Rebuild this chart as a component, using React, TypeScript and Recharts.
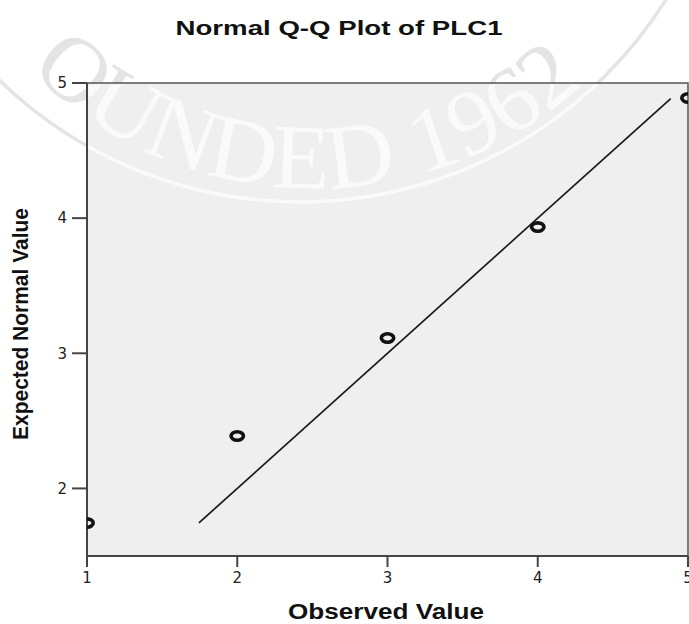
import React from 'react';
import { ScatterChart, Scatter, XAxis, YAxis, ReferenceArea } from 'recharts';

const observed = [1, 2, 3, 4, 5];
const expected = [1.744, 2.388, 3.113, 3.934, 4.889];
const fitX = [1.745, 4.885];
const fitY = [1.745, 4.885];
const xTicks = [1, 2, 3, 4, 5];
const yTicks = [2, 3, 4, 5];

const points = observed.map((x, i) => ({ x, y: expected[i] }));
const fitLine = fitX.map((x, i) => ({ x, y: fitY[i] }));

const TITLE = 'Normal Q-Q Plot of PLC1';
const X_LABEL = 'Observed Value';
const Y_LABEL = 'Expected Normal Value';

const RingMarker = (props: any) => {
  const { cx, cy } = props;
  if (cx == null || cy == null) return <g />;
  return <ellipse cx={cx} cy={cy} rx={6.2} ry={4.2} fill="none" stroke="#111" strokeWidth={3.6} />;
};

const Watermark = ({ color, id }: { color: string; id: string }) => (
  <g>
    <defs>
      <path id={id} d="M 30 70 A 400 400 0 0 0 640 20" />
    </defs>
    <circle cx={300} cy={-230} r={432} fill="none" stroke={color} strokeWidth={3.5} />
    <text fontFamily="'Liberation Serif', serif" fontSize={92} fill={color}>
      <textPath href={`#${id}`} textLength={612} lengthAdjust="spacingAndGlyphs">
        OUNDED 1962
      </textPath>
    </text>
  </g>
);

export default function App() {
  return (
    <div style={{ position: 'absolute', left: 0, top: 0, width: 689, height: 624, overflow: 'hidden', background: '#fff' }}>
      <svg width={689} height={624} style={{ position: 'absolute', left: 0, top: 0 }}>
        <Watermark color="#e4e4e4" id="wm-path-a" />
        <text
          x={339}
          y={34.5}
          textAnchor="middle"
          fontFamily="'Liberation Sans', Arial, sans-serif"
          fontWeight="bold"
          fontSize={21}
          fill="#111"
          textLength={327}
          lengthAdjust="spacingAndGlyphs"
        >
          {TITLE}
        </text>
        <text
          x={386}
          y={619}
          textAnchor="middle"
          fontFamily="'Liberation Sans', Arial, sans-serif"
          fontWeight="bold"
          fontSize={22}
          fill="#111"
          textLength={196}
          lengthAdjust="spacingAndGlyphs"
        >
          {X_LABEL}
        </text>
        <text
          x={0}
          y={0}
          transform="translate(28 324) rotate(-90)"
          textAnchor="middle"
          fontFamily="'Liberation Sans', Arial, sans-serif"
          fontWeight="bold"
          fontSize={22}
          fill="#111"
          textLength={232}
          lengthAdjust="spacingAndGlyphs"
        >
          {Y_LABEL}
        </text>
      </svg>
      <div style={{ position: 'absolute', left: 0, top: 0 }}>
        <ScatterChart width={700} height={624} margin={{ top: 83, right: 12, bottom: 28, left: 27 }}>
          <XAxis
            type="number"
            dataKey="x"
            domain={[1, 5]}
            ticks={xTicks}
            allowDataOverflow
            height={40}
            tickSize={11}
            tickMargin={5}
            axisLine={{ stroke: '#444', strokeWidth: 2 }}
            tickLine={{ stroke: '#444', strokeWidth: 2 }}
            tick={{ fontSize: 15, fill: '#222', fontFamily: "'DejaVu Sans', sans-serif" }}
          />
          <YAxis
            type="number"
            dataKey="y"
            domain={[1.5, 5]}
            ticks={yTicks}
            allowDataOverflow
            width={60}
            tickSize={15}
            tickMargin={5}
            axisLine={{ stroke: '#444', strokeWidth: 2 }}
            tickLine={{ stroke: '#444', strokeWidth: 2 }}
            tick={{ fontSize: 15, fill: '#222', fontFamily: "'DejaVu Sans', sans-serif" }}
          />
          <ReferenceArea x1={1} x2={5} y1={1.5} y2={5} fill="#efefef" fillOpacity={1} stroke="#555" strokeWidth={1.5} />
          <Scatter
            data={fitLine}
            line={{ stroke: '#1a1a1a', strokeWidth: 1.7 }}
            shape={() => <g />}
            isAnimationActive={false}
          />
          <Scatter data={points} shape={RingMarker} isAnimationActive={false} />
        </ScatterChart>
      </div>
      <svg width={689} height={624} style={{ position: 'absolute', left: 0, top: 0, pointerEvents: 'none' }}>
        <defs>
          <clipPath id="plot-clip">
            <rect x={88.5} y={84.5} width={598.5} height={470} />
          </clipPath>
        </defs>
        <g clipPath="url(#plot-clip)">
          <Watermark color="#fafafa" id="wm-path-b" />
        </g>
      </svg>
    </div>
  );
}
